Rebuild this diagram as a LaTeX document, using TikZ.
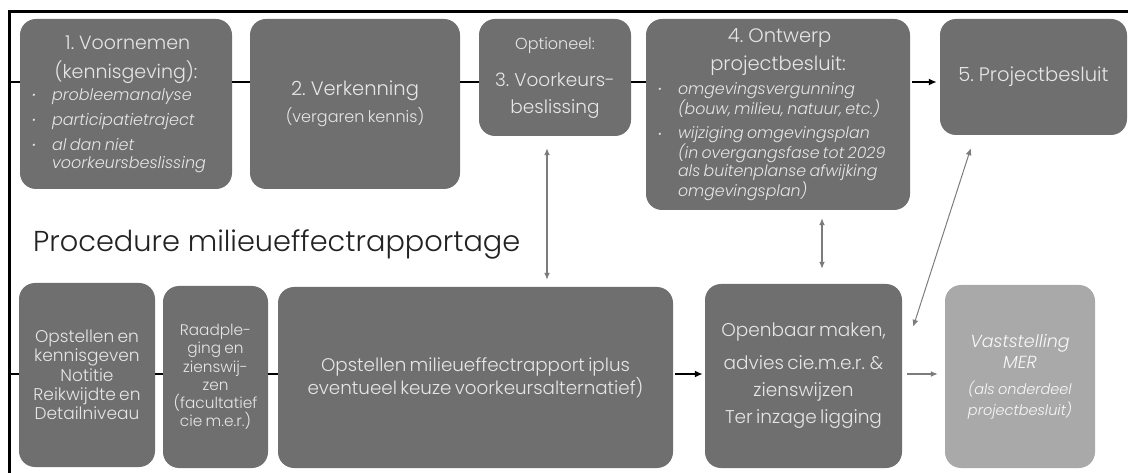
\documentclass[tikz,border=0pt]{standalone}
\usepackage{fontspec}
\setmainfont{Poppins}[UprightFont={* Light},ItalicFont={* Light Italic}]
\usetikzlibrary{arrows.meta,calc}
\definecolor{boxgray}{HTML}{6F6F6F}
\definecolor{boxlight}{HTML}{A9A9A9}
\definecolor{boxtext}{HTML}{E6E6E6}
\definecolor{linkgray}{HTML}{7C7C7C}
\definecolor{headtext}{HTML}{222222}
% bullet with a fixed hanging width
\newcommand{\bul}{\makebox[20pt][l]{\raisebox{1.5pt}{\scalebox{0.6}{\textbullet}}}}
\newcommand{\fs}[2]{\fontsize{#1}{#2}\selectfont}

\begin{document}
\begin{tikzpicture}[x=1pt,y=-1pt,
  box/.style={fill=boxgray, rounded corners=16pt, text=boxtext, inner sep=0pt,
    execute at begin node={\parindent=0pt\centering}},
  conn/.style={line width=2.4pt, black},
  link/.style={line width=1.3pt, linkgray, {Latex[length=7pt,width=6pt]}-{Latex[length=7pt,width=6pt]}},
  fwd/.style={-{Latex[length=8pt,width=7pt]}},
]
\useasboundingbox (0,0) rectangle (1128,473);
\clip (0,0) rectangle (1128,473);

% outer frame
\draw[line width=3pt] (9,490) -- (9,12) -- (1140,12);

% ---- project procedure (top row) ----
\node[box, minimum width=212pt, minimum height=170pt, text width=188pt] (b1) at (126,104) {%
  \vspace*{6pt}
  {\fs{19}{23}1. Voornemen\\(kennisgeving):\par}
  \vspace{4pt}
  {\raggedright\fs{16}{18}\itshape
  \bul probleemanalyse\par\vspace{7pt}
  \bul participatietraject\par\vspace{7pt}
  \bul al dan niet\\\hspace*{20pt}voorkeursbeslissing\par}};

\node[box, minimum width=210pt, minimum height=170pt, text width=200pt] (b2) at (355,104) {%
  {\fs{19.5}{22}2. Verkenning\par}\vspace{6pt}
  {\fs{16}{16}(vergaren kennis)\par}};

\node[box, minimum width=152pt, minimum height=117pt, text width=150pt] (b3) at (555,77.5) {%
  {\fs{16}{16}Optioneel:\par}\vspace{10pt}
  {\fs{18.5}{27}3. Voorkeurs-\\beslissing\par}};

\node[box, minimum width=264pt, minimum height=191pt, text width=240pt] (b4) at (778,114.5) {%
  \vspace*{5pt}
  {\fs{19.5}{23}4. Ontwerp\\projectbesluit:\par}
  \vspace{6pt}
  {\raggedright\fs{15.8}{17.5}\itshape
  \bul omgevingsvergunning\\\hspace*{20pt}(bouw, milieu, natuur, etc.)\par\vspace{7pt}
  \bul wijziging omgevingsplan\\\hspace*{20pt}(in overgangsfase tot 2029\\\hspace*{20pt}als buitenplanse afwijking\\\hspace*{20pt}omgevingsplan)\par}};

\node[box, minimum width=187pt, minimum height=116pt, text width=185pt] (b5) at (1033.5,77) {%
  \fs{19.5}{20}5. Projectbesluit\par};

% ---- environmental impact procedure (bottom row) ----
\node[anchor=base west, text=headtext, inner sep=0pt, font=\fs{28.8}{32}] (mer) at (33,252)
  {Procedure milieueffectrapportage};

\node[box, minimum width=136pt, minimum height=184pt, text width=136pt] (l1) at (87,375) {%
  \fs{17}{19.3}Opstellen en\\kennisgeven\\Notitie\\Reikwijdte en\\Detailniveau\par};

\node[box, minimum width=105pt, minimum height=182pt, text width=105pt] (l2) at (215.5,377) {%
  \fs{15.3}{18.2}Raadple-\\ging en\\zienswij-\\zen\\(facultatief\\cie m.e.r.)\par};

\node[box, minimum width=395pt, minimum height=181pt, text width=385pt] (big) at (475.5,377.5) {%
  \fs{18.3}{20}Opstellen milieueffectrapport iplus\\eventueel keuze voorkeursalternatief)\par};

\node[box, minimum width=197pt, minimum height=184pt, text width=195pt] (open) at (803.5,376) {%
  \vspace*{6pt}\fs{18.5}{27}Openbaar maken,\\advies cie.m.e.r. \&\\zienswijzen\\Ter inzage ligging\par};

\node[box, fill=boxlight, text=white!92!boxlight, minimum width=150pt, minimum height=183pt, text width=148pt] (vast) at (1020,376.5) {%
  \itshape{\fs{17.5}{21}Vaststelling\\MER\par}\vspace{5pt}
  {\fs{14.5}{21}(als onderdeel\\projectbesluit)\par}};

% ---- flow lines ----
\coordinate (row) at (9,82);
\draw[conn] (row) -- (b1.west |- row);
\draw[conn] (b1.east |- row) -- (b2.west |- row);
\draw[conn] (b2.east |- row) -- (b3.west |- row);
\draw[conn] (b3.east |- row) -- (b4.west |- row);
\draw[conn, fwd] ($(b4.east |- row)+(2,0)$) -- ($(b5.west |- row)+(-3,0)$);

\coordinate (row2) at (9,374);
\draw[conn] (row2) -- (l1.west |- row2);
\draw[conn] (l1.east |- row2) -- (l2.west |- row2);
\draw[conn] (l2.east |- row2) -- (big.west |- row2);
\draw[conn, fwd] ($(big.east |- row2)+(2,0)$) -- ($(open.west |- row2)+(-2,0)$);
\draw[line width=1.3pt, linkgray, -{Latex[length=7pt,width=6pt]}]
  ($(open.east |- row2)+(5,0)$) -- ($(vast.west |- row2)+(-7,0)$);

% ---- links between the two procedures ----
\draw[link] ($(b3.south)+(-8,12)$) -- ($(b3.south |- big.north)+(-8,-7)$);
\draw[link] ($(b4.south)+(44,8)$) -- ($(b4.south |- open.north)+(44,-15)$);
\draw[link, line width=1pt] ($(open.north east)+(11,43)$) -- ($(b5.south west)+(31,13)$);
\end{tikzpicture}
\end{document}
